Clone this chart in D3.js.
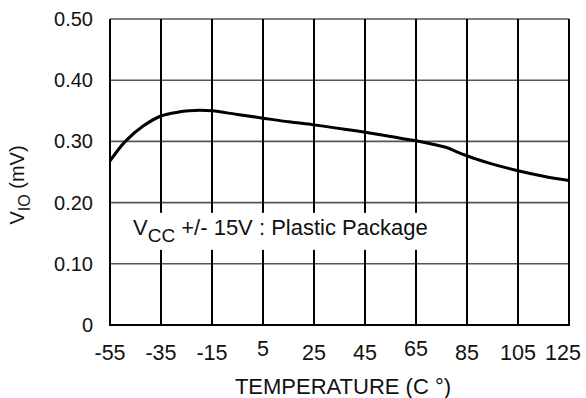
<!DOCTYPE html>
<html>
<head>
<meta charset="utf-8">
<script src="https://cdn.jsdelivr.net/npm/d3@7"></script>
<style>
  body { margin: 0; background: #fff; }
  text { font-family: "Liberation Sans", Arial, sans-serif; fill: #111; }
</style>
</head>
<body>
<div id="chart"></div>
<script>
// temperature (C) vs input offset voltage (mV)
var temps = [-55, -49, -42, -35, -28, -24, -20, -15, -5, 5, 15, 25, 37, 45, 55, 65, 72, 77, 81, 85, 89, 94, 105, 115, 125];
var vio   = [0.268, 0.300, 0.325, 0.3415, 0.348, 0.350, 0.351, 0.350, 0.344, 0.338, 0.332, 0.327, 0.320, 0.315, 0.308, 0.301, 0.295, 0.290, 0.283, 0.2766, 0.2707, 0.264, 0.252, 0.243, 0.236];

var xTicks = [-55, -35, -15, 5, 25, 45, 65, 85, 105, 125];
var yTicks = [0, 0.1, 0.2, 0.3, 0.4, 0.5];
var yTickLabels = ["0", "0.10", "0.20", "0.30", "0.40", "0.50"];

var margin = {top: 19, right: 17, bottom: 73, left: 110},
    width = 586 - margin.left - margin.right,
    height = 398 - margin.top - margin.bottom;

var svg = d3.select("#chart")
  .append("svg")
    .attr("width", 586)
    .attr("height", 398)
  .append("g")
    .attr("transform", "translate(" + margin.left + "," + margin.top + ")");

var x = d3.scaleLinear().domain([-55, 125]).range([0, width]);
var y = d3.scaleLinear().domain([0, 0.5]).range([height, 0]);

// horizontal grid (grey)
svg.append("g")
  .selectAll("line")
  .data(yTicks)
  .enter()
  .append("line")
    .attr("x1", 0)
    .attr("x2", width)
    .attr("y1", d => y(d))
    .attr("y2", d => y(d))
    .attr("stroke", "#555")
    .attr("stroke-width", 1.6);

// vertical grid (black)
svg.append("g")
  .selectAll("line")
  .data(xTicks)
  .enter()
  .append("line")
    .attr("x1", d => x(d))
    .attr("x2", d => x(d))
    .attr("y1", 0)
    .attr("y2", height)
    .attr("stroke", "#000")
    .attr("stroke-width", 2);

// bottom border, black
svg.append("line")
  .attr("x1", -1).attr("x2", width + 1)
  .attr("y1", height).attr("y2", height)
  .attr("stroke", "#000")
  .attr("stroke-width", 2.2);

// annotation box covers the grid
svg.append("rect")
  .attr("x", 20)
  .attr("y", y(0.18) - 2)
  .attr("width", 312)
  .attr("height", 37)
  .attr("fill", "#fff");

var note = svg.append("text")
  .attr("x", 23)
  .attr("y", 216)
  .style("font-size", "22px");
note.append("tspan").text("V");
note.append("tspan").attr("dy", 7).style("font-size", "19px").text("CC");
note.append("tspan").attr("dy", -7).text(" +/- 15V : Plastic Package");

// curve
svg.append("path")
  .datum(temps.map((t, i) => [t, vio[i]]))
  .attr("fill", "none")
  .attr("stroke", "#000")
  .attr("stroke-width", 3)
  .attr("stroke-linejoin", "round")
  .attr("d", d3.line()
    .x(d => x(d[0]))
    .y(d => y(d[1]))
    .curve(d3.curveCatmullRom));

// x tick labels
svg.append("g")
  .selectAll("text")
  .data(xTicks)
  .enter()
  .append("text")
    .attr("x", d => d == 125 ? x(d) - 6 : x(d))
    .attr("y", d => (d == 5 || d == 65) ? height + 31 : height + 35)
    .attr("text-anchor", "middle")
    .style("font-size", "21.5px")
    .text(d => d);

// y tick labels
svg.append("g")
  .selectAll("text")
  .data(yTicks)
  .enter()
  .append("text")
    .attr("x", -17)
    .attr("y", d => y(d) + 7)
    .attr("text-anchor", "end")
    .style("font-size", "20px")
    .text((d, i) => yTickLabels[i]);

// axis titles
svg.append("text")
  .attr("x", 233)
  .attr("y", height + 69)
  .attr("text-anchor", "middle")
  .style("font-size", "22px")
  .text("TEMPERATURE (C \u00b0)");

var yt = svg.append("text")
  .attr("transform", "translate(-86," + 166 + ") rotate(-90)")
  .attr("text-anchor", "middle")
  .style("font-size", "20px");
yt.append("tspan").text("V");
yt.append("tspan").attr("dy", 6).style("font-size", "16px").text("IO");
yt.append("tspan").attr("dy", -6).text(" (mV)");
</script>
</body>
</html>
